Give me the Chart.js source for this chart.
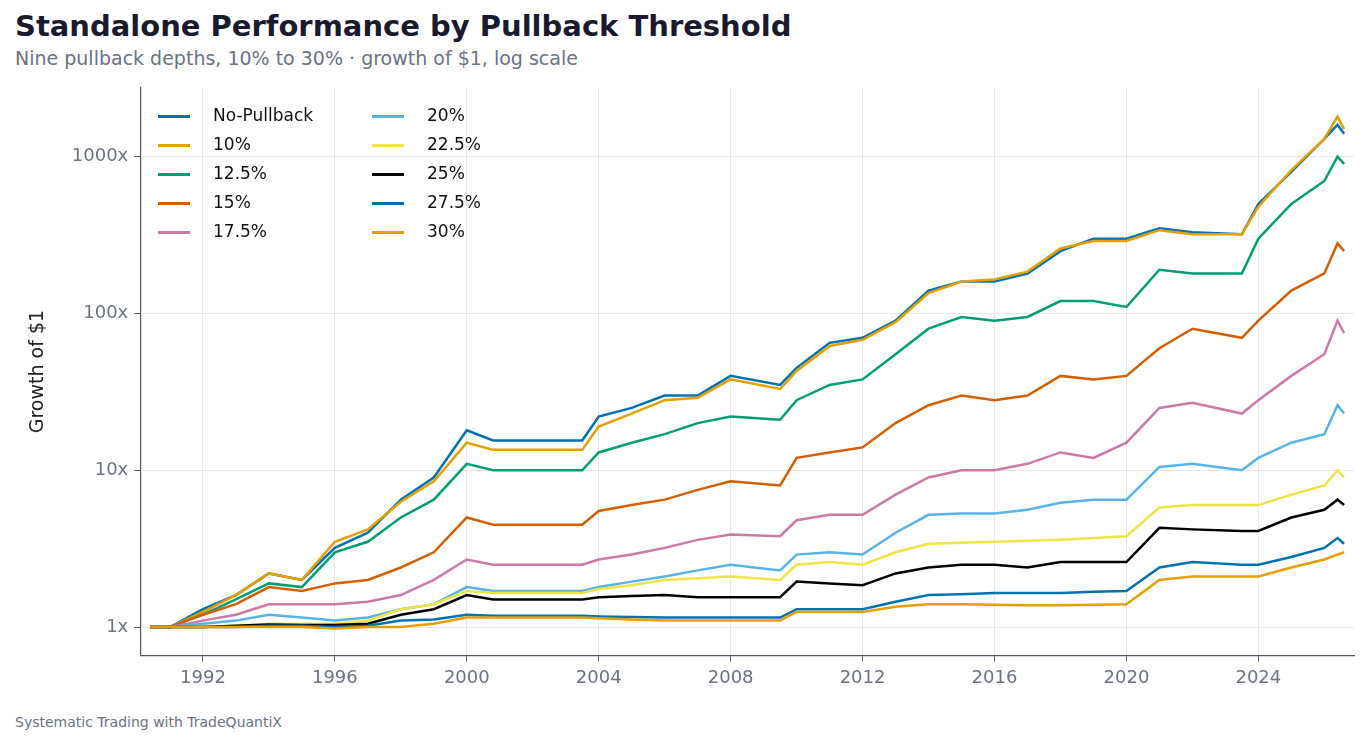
<!DOCTYPE html>
<html>
<head>
<meta charset="utf-8">
<script src="https://cdn.jsdelivr.net/npm/chart.js@4"></script>
<style>
body{margin:0;background:#fff;font-family:"DejaVu Sans",sans-serif;width:1368px;height:747px;overflow:hidden;position:relative}
#title{position:absolute;left:15px;top:9px;font-size:29px;font-weight:bold;color:#1a1a2e}
#sub{position:absolute;left:15px;top:47px;font-size:19px;color:#6b7280}
#foot{position:absolute;left:15px;top:714px;font-size:14px;color:#6b7280}
#wrap{position:absolute;left:0;top:71px;width:1368px;height:624px}
#legend{position:absolute;left:158px;top:103px;font-size:17px;color:#111}
.it{position:absolute;white-space:nowrap;height:29px;line-height:24px}
.it span{display:inline-block;width:32px;height:3px;vertical-align:middle;margin-right:23px}
</style>
</head>
<body>
<div id="title">Standalone Performance by Pullback Threshold</div>
<div id="sub">Nine pullback depths, 10% to 30% · growth of $1, log scale</div>
<div id="wrap"><canvas id="canvas"></canvas></div>
<div id="legend"></div>
<div id="foot">Systematic Trading with TradeQuantiX</div>
<script>
var years = [1990.4,1991,1992,1993,1994,1995,1996,1997,1998,1999,2000,2000.8,2003.5,2004,2005,2006,2007,2008,2009.5,2010,2011,2012,2013,2014,2015,2016,2017,2018,2019,2020,2021,2022,2023.5,2024,2025,2026,2026.4,2026.6];
var labels = ['No-Pullback','10%','12.5%','15%','17.5%','20%','22.5%','25%','27.5%','30%'];
var colors = ['#0072B2','#E69F00','#009E73','#D55E00','#CC79A7','#56B4E9','#F0E442','#000000','#0072B2','#E69F00'];
var noPb = [1,1.0,1.3,1.6,2.2,2.0,3.2,4.0,6.5,9,18,15.5,15.5,22,25,30,30,40,35,45,65,70,90,140,160,160,180,250,300,300,350,330,320,500,800,1300,1600,1400];
var p10 = [1,1.0,1.25,1.6,2.2,2.0,3.5,4.2,6.3,8.5,15,13.5,13.5,19,23,28,29,38,33,43,62,68,88,135,160,165,185,260,290,290,340,320,320,480,820,1300,1800,1500];
var p125 = [1,1.0,1.2,1.5,1.9,1.8,3.0,3.5,5,6.5,11,10,10,13,15,17,20,22,21,28,35,38,55,80,95,90,95,120,120,110,190,180,180,300,500,700,1000,900];
var p15 = [1,1.0,1.2,1.4,1.8,1.7,1.9,2.0,2.4,3.0,5.0,4.5,4.5,5.5,6,6.5,7.5,8.5,8,12,13,14,20,26,30,28,30,40,38,40,60,80,70,90,140,180,280,250];
var p175 = [1,1.0,1.1,1.2,1.4,1.4,1.4,1.45,1.6,2.0,2.7,2.5,2.5,2.7,2.9,3.2,3.6,3.9,3.8,4.8,5.2,5.2,7,9,10,10,11,13,12,15,25,27,23,28,40,55,90,75];
var p20 = [1,1.0,1.05,1.1,1.2,1.15,1.1,1.15,1.3,1.4,1.8,1.7,1.7,1.8,1.95,2.1,2.3,2.5,2.3,2.9,3.0,2.9,4.0,5.2,5.3,5.3,5.6,6.2,6.5,6.5,10.5,11,10,12,15,17,26,23];
var p225 = [1,1.0,1.0,1.02,1.05,1.05,1.05,1.1,1.3,1.4,1.7,1.65,1.65,1.75,1.85,2.0,2.05,2.1,2.0,2.5,2.6,2.5,3.0,3.4,3.45,3.5,3.55,3.6,3.7,3.8,5.8,6.0,6.0,6.0,7,8,10,9];
var p25 = [1,1.0,1.0,1.02,1.04,1.03,1.03,1.05,1.2,1.3,1.6,1.5,1.5,1.55,1.58,1.6,1.55,1.55,1.55,1.95,1.9,1.85,2.2,2.4,2.5,2.5,2.4,2.6,2.6,2.6,4.3,4.2,4.1,4.1,5,5.6,6.5,6];
var p275 = [1,1.0,1.0,1.0,1.02,1.02,1.0,1.02,1.1,1.12,1.2,1.18,1.18,1.17,1.16,1.15,1.15,1.15,1.15,1.3,1.3,1.3,1.45,1.6,1.62,1.65,1.65,1.65,1.68,1.7,2.4,2.6,2.5,2.5,2.8,3.2,3.7,3.4];
var p30 = [1,1.0,1.0,1.0,1.0,1.0,0.98,1.0,1.0,1.05,1.15,1.15,1.15,1.14,1.12,1.1,1.1,1.1,1.1,1.25,1.25,1.25,1.35,1.4,1.4,1.39,1.38,1.38,1.39,1.4,2.0,2.1,2.1,2.1,2.4,2.7,2.9,3.0];
var series = [noPb,p10,p125,p15,p175,p20,p225,p25,p275,p30];
var xTicks = [1992,1996,2000,2004,2008,2012,2016,2020,2024];
var yTicks = [1,10,100,1000];

var datasets = [];
for (var i = series.length - 1; i >= 0; i--) {
  datasets.push({
    label: labels[i],
    data: years.map(function(y, j){ return {x: y, y: series[i][j]}; }),
    borderColor: colors[i],
    borderWidth: 2.5,
    pointRadius: 0,
    tension: 0
  });
}

var lg = document.getElementById('legend');
labels.forEach(function(l, i){
  var d = document.createElement('div');
  d.className = 'it';
  d.style.left = (i < 5 ? 0 : 214) + 'px';
  d.style.top = (i % 5) * 29 + 'px';
  d.innerHTML = '<span style="background:' + colors[i] + '"></span>' + l;
  lg.appendChild(d);
});

window.onload = function() {
  var ctx = document.getElementById('canvas').getContext('2d');
  window.myLine = new Chart(ctx, {
    type: 'line',
    data: {datasets: datasets},
    options: {
      responsive: true,
      maintainAspectRatio: false,
      animation: false,
      layout: {padding: {left: 23, right: 14, top: 10}},
      plugins: {legend: {display: false}, tooltip: {enabled: false}},
      scales: {
        x: {
          type: 'linear', min: 1990.1, max: 2026.9,
          afterBuildTicks: function(s){ s.ticks = xTicks.map(function(v){ return {value: v}; }); },
          ticks: {color: '#6b7280', font: {size: 18, family: 'DejaVu Sans'}, callback: function(v){ return String(v); }, padding: 6},
          grid: {color: '#e8e8e8', tickColor: '#555', tickLength: 6},
          border: {color: '#555', width: 1.2}
        },
        y: {
          type: 'logarithmic', min: 0.66, max: 2750,
          afterBuildTicks: function(s){ s.ticks = yTicks.map(function(v){ return {value: v}; }); },
          ticks: {color: '#6b7280', font: {size: 18, family: 'DejaVu Sans'}, callback: function(v){ return v + 'x'; }, padding: 6},
          grid: {color: '#e8e8e8', tickColor: '#555', tickLength: 6},
          border: {color: '#555', width: 1.2},
          title: {display: true, text: 'Growth of $1', color: '#222', font: {size: 19, family: 'DejaVu Sans'}, padding: {bottom: 16}}
        }
      }
    }
  });
};
</script>
</body>
</html>
